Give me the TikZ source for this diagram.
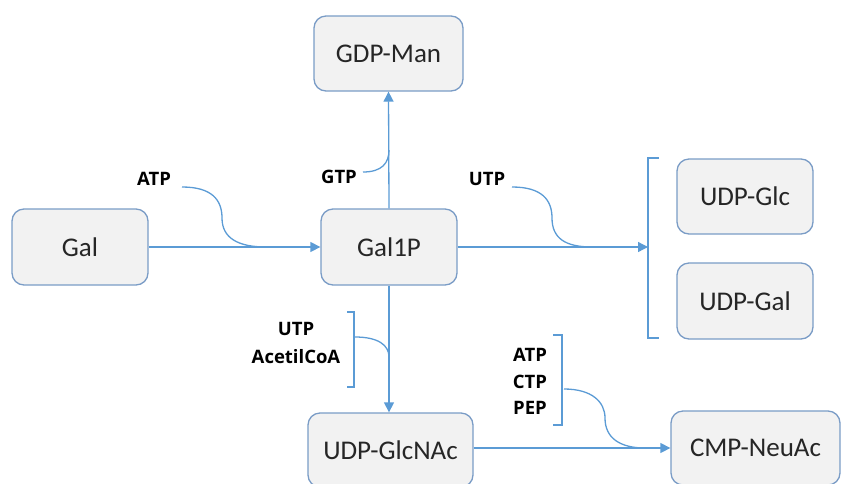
\documentclass[tikz,border=0pt]{standalone}
\usepackage{fontspec}
\setmainfont{Carlito}
\newfontfamily\lblfont{Open Sans}
\usetikzlibrary{arrows.meta}
\definecolor{boxborder}{HTML}{7A9CC6}
\definecolor{boxfill}{HTML}{F2F2F2}
\definecolor{linec}{HTML}{5B9BD5}
\tikzset{
  box/.style={draw=boxborder, fill=boxfill, line width=1.3pt, rounded corners=12pt,
    font=\fontsize{27}{30}\selectfont, text=black!85, inner sep=0pt},
  conn/.style={draw=linec, line width=1.3pt},
  arr/.style={conn, -{Triangle[length=10pt,width=10pt]}},
  lbl/.style={font=\lblfont\bfseries\fontsize{18.5}{27.5}\selectfont, inner sep=0pt, align=center},
}
\begin{document}
\begin{tikzpicture}[x=1pt,y=-1pt]
\useasboundingbox (0,0) rectangle (841,483);
\begin{scope}
\clip (0,0) rectangle (841,483);
% boxes
\node[box, minimum width=136pt, minimum height=76pt] (gal) at (80,247) {Gal};
\node[box, minimum width=136pt, minimum height=76pt] (gal1p) at (389,247) {Gal1P};
\node[box, minimum width=149pt, minimum height=75pt] (gdpman) at (388.5,53.5) {GDP-Man};
\node[box, minimum width=136pt, minimum height=75pt] (udpglc) at (745,196.5) {UDP-Glc};
\node[box, minimum width=136pt, minimum height=76pt] (udpgal) at (745,301) {UDP-Gal};
\node[box, minimum width=165pt, minimum height=74pt] (udpglcnac) at (390.5,450) {UDP-GlcNAc};
\node[box, minimum width=169pt, minimum height=74pt] (cmpneuac) at (755.5,448) {CMP-NeuAc};
\end{scope}
% labels
\node[lbl] (atp1) at (154,179) {ATP};
\node[lbl] (gtp) at (339,177) {GTP};
\node[lbl] (utp1) at (487,179) {UTP};
\node[lbl] (utp2) at (296,343) {UTP\\AcetilCoA};
\node[lbl] (atp2) at (530,381.5) {ATP\\[-1pt]CTP\\[-1pt]PEP};
% coordinates
\coordinate (br1) at (648,247);
\coordinate (atpS) at (182,187);
\coordinate (atpJ) at (266,247);
\coordinate (gtpS) at (363,172);
\coordinate (gtpJ) at (389,150);
\coordinate (utpS) at (512,187);
\coordinate (utpJ) at (592,247);
\coordinate (acS) at (355,337);
\coordinate (acJ) at (389,357);
\coordinate (pepS) at (564,389);
\coordinate (pepJ) at (645,448);
% main arrows
\draw[arr] (gal.east) -- (gal1p.west);
\draw[arr] (gal1p.north) -- (gdpman.south);
\draw[arr] (gal1p.east) -- (br1);
\draw[arr] (gal1p.south) -- (udpglcnac.north -| gal1p.south);
\draw[arr] (udpglcnac.east |- cmpneuac.west) -- (cmpneuac.west);
% brackets
\draw[conn] (659,158) -- (648,158) -- (648,338) -- (659,338);
\draw[conn] (347,312) -- (354,312) -- (354,387) -- (347,387);
\draw[conn] (553,335) -- (562,335) -- (562,425) -- (553,425);
% side curves
\draw[conn] (atpS) .. controls (212,187) and (222,200) .. (222,218)
  .. controls (222,238) and (238,247) .. (atpJ);
\draw[conn] (utpS) .. controls (542,187) and (552,200) .. (552,218)
  .. controls (552,238) and (565,247) .. (utpJ);
\draw[conn] (gtpS) .. controls (382,172) and (389,163) .. (gtpJ);
\draw[conn] (acS) .. controls (378,337) and (389,345) .. (acJ);
\draw[conn] (pepS) .. controls (592,389) and (605,402) .. (605,418)
  .. controls (605,438) and (620,448) .. (pepJ);
\end{tikzpicture}
\end{document}
